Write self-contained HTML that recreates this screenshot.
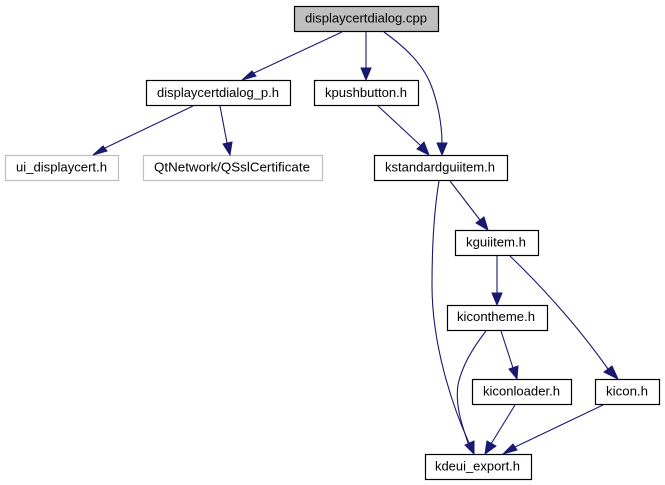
<!DOCTYPE html>
<html><head><meta charset="utf-8"><style>
html,body{margin:0;padding:0;background:#fff;width:665px;height:485px;overflow:hidden}
svg{display:block;filter:blur(0.3px)}
text{font-family:"Liberation Sans",sans-serif;font-size:13.1px;fill:#000;text-anchor:middle}
.n{fill:#fff;stroke:#000;stroke-width:1.2}
.g{fill:#fff;stroke:#bfbfbf;stroke-width:1.2}
.e{fill:none;stroke:#191970;stroke-width:1.1}
.a{fill:#191970;stroke:#191970;stroke-width:1}
</style></head><body>
<svg width="665" height="485" viewBox="0 0 665 485" xmlns="http://www.w3.org/2000/svg">
<rect x="294.5" y="6.5" width="144" height="25" fill="#bfbfbf" stroke="#000" stroke-width="1.2"/>
<text x="366" y="22.5" textLength="122" lengthAdjust="spacingAndGlyphs">displaycertdialog.cpp</text>
<rect class="n" x="146.5" y="80.5" width="144" height="25"/>
<text x="218" y="96.8" textLength="122" lengthAdjust="spacingAndGlyphs">displaycertdialog_p.h</text>
<rect class="n" x="314.5" y="80.5" width="104" height="25"/>
<text x="366" y="96.8" textLength="82" lengthAdjust="spacingAndGlyphs">kpushbutton.h</text>
<rect class="g" x="5.5" y="155.5" width="113" height="25"/>
<text x="61.5" y="171.3" textLength="91" lengthAdjust="spacingAndGlyphs">ui_displaycert.h</text>
<rect class="g" x="143.5" y="155.5" width="179" height="25"/>
<text x="232" y="171.3" textLength="156" lengthAdjust="spacingAndGlyphs">QtNetwork/QSslCertificate</text>
<rect class="n" x="374.5" y="155.5" width="133" height="25"/>
<text x="440" y="171.3" textLength="110" lengthAdjust="spacingAndGlyphs">kstandardguiitem.h</text>
<rect class="n" x="455.5" y="230.5" width="83" height="25"/>
<text x="496" y="246.5" textLength="60" lengthAdjust="spacingAndGlyphs">kguiitem.h</text>
<rect class="n" x="447.5" y="305.5" width="100" height="25"/>
<text x="496" y="320.8" textLength="78" lengthAdjust="spacingAndGlyphs">kicontheme.h</text>
<rect class="n" x="472.5" y="379.5" width="99" height="25"/>
<text x="521.5" y="395.3" textLength="77" lengthAdjust="spacingAndGlyphs">kiconloader.h</text>
<rect class="n" x="595.5" y="379.5" width="64" height="25"/>
<text x="627" y="395.3" textLength="42" lengthAdjust="spacingAndGlyphs">kicon.h</text>
<rect class="n" x="425.5" y="454.5" width="106" height="25"/>
<text x="477.5" y="470.3" textLength="85" lengthAdjust="spacingAndGlyphs">kdeui_export.h</text>

<path class="e" d="M342,32L254,73"/>
<polygon class="a" points="256,76 242,80 252,71"/>
<path class="e" d="M366,32L366,68"/>
<polygon class="a" points="371,68 366,80 361,68"/>
<path class="e" d="M384,32C402,45 422,62 431,85C438,103 442,125 442,143"/>
<polygon class="a" points="447,143 442,155 437,143"/>
<path class="e" d="M193,106L105,148"/>
<polygon class="a" points="107,151 93,155 103,146"/>
<path class="e" d="M220,106L227,143"/>
<polygon class="a" points="232,142 230,155 223,144"/>
<path class="e" d="M378,106L420,145"/>
<polygon class="a" points="424,142 429,155 417,149"/>
<path class="e" d="M439,181C435,205 432,240 432,285C432,345 452,405 469,443"/>
<polygon class="a" points="474,441 474,454 465,445"/>
<path class="e" d="M450,181L480,220"/>
<polygon class="a" points="484,217 488,230 476,223"/>
<path class="e" d="M497,256L497,293"/>
<polygon class="a" points="502,293 497,305 492,293"/>
<path class="e" d="M510,256C535,280 575,322 608,369"/>
<polygon class="a" points="612,366 618,379 604,372"/>
<path class="e" d="M486,331C475,345 462,365 458,385C455,405 462,425 468,443"/>
<path class="e" d="M501,331L513,368"/>
<polygon class="a" points="518,366 517,379 509,369"/>
<path class="e" d="M515,405L491,444"/>
<polygon class="a" points="496,446 485,454 487,441"/>
<path class="e" d="M603,405L515,447"/>
<polygon class="a" points="517,450 503,454 513,444"/>
</svg>
</body></html>
